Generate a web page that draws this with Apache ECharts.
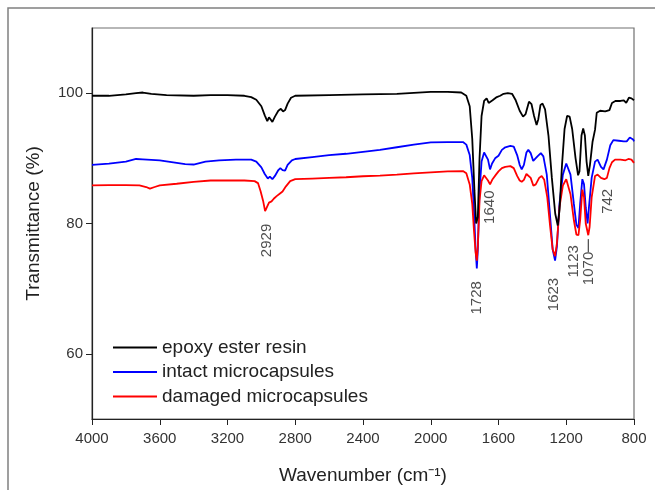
<!DOCTYPE html>
<html>
<head>
<meta charset="utf-8">
<script src="https://cdn.jsdelivr.net/npm/echarts@6/dist/echarts.min.js"></script>
<style>
  html, body { margin: 0; padding: 0; background: #fff; }
  #chart { width: 655px; height: 490px; }
</style>
</head>
<body>
<div id="chart"></div>
<script>
// FTIR spectra: [wavenumber (cm-1), transmittance (%)]
const epoxyResin = [
  [4000, 99.6], [3900, 99.6], [3800, 99.8], [3740, 100.0], [3700, 100.1], [3650, 99.9],
  [3560, 99.7], [3400, 99.6], [3300, 99.7], [3200, 99.7], [3100, 99.6], [3060, 99.4],
  [3030, 99.0], [3000, 98.0], [2980, 96.6], [2965, 95.7], [2955, 96.3], [2945, 96.0],
  [2935, 95.6], [2920, 96.4], [2900, 97.3], [2885, 97.6], [2872, 97.2], [2860, 97.4],
  [2845, 98.4], [2825, 99.3], [2800, 99.6], [2600, 99.7], [2400, 99.8], [2200, 99.9],
  [2000, 100.2], [1900, 100.2], [1820, 100.1], [1790, 99.6], [1770, 98.0], [1755, 93.0],
  [1742, 85.0], [1732, 80.0], [1728, 79.7], [1722, 81.0], [1712, 90.0], [1700, 96.5],
  [1685, 98.8], [1670, 99.2], [1658, 98.5], [1648, 98.2], [1635, 98.9], [1610, 99.4],
  [1590, 99.6], [1570, 99.9], [1545, 100.0], [1520, 99.9], [1500, 99.0], [1475, 97.3],
  [1455, 96.4], [1440, 96.8], [1420, 98.7], [1405, 98.3], [1390, 96.5], [1375, 95.1],
  [1365, 96.0], [1352, 98.2], [1340, 98.4], [1325, 97.5], [1305, 93.5], [1285, 87.0],
  [1265, 81.5], [1250, 79.7], [1240, 82.0], [1225, 89.0], [1210, 94.5], [1195, 96.5],
  [1180, 96.4], [1165, 94.5], [1145, 90.0], [1130, 87.4], [1122, 88.0], [1110, 93.5],
  [1100, 94.6], [1090, 93.5], [1080, 89.5], [1070, 87.3], [1060, 89.0], [1045, 92.5],
  [1030, 94.4], [1020, 97.0], [1000, 97.3], [970, 97.2], [945, 97.4], [930, 98.5],
  [910, 98.8], [880, 98.8], [860, 98.9], [846, 98.5], [830, 99.3], [815, 99.2], [800, 98.9]
];

const intactCaps = [
  [4000, 89.0], [3900, 89.2], [3800, 89.5], [3740, 89.9], [3700, 89.85], [3600, 89.7],
  [3550, 89.5], [3450, 89.1], [3400, 89.05], [3330, 89.5], [3250, 89.7], [3150, 89.8],
  [3060, 89.8], [3030, 89.5], [3000, 88.6], [2980, 87.6], [2962, 86.9], [2950, 87.2],
  [2935, 86.8], [2920, 87.3], [2900, 88.2], [2888, 88.5], [2875, 88.2], [2860, 88.1],
  [2845, 89.0], [2820, 89.7], [2800, 89.9], [2700, 90.2], [2600, 90.5], [2500, 90.7],
  [2400, 91.0], [2300, 91.3], [2200, 91.7], [2100, 92.1], [2000, 92.45], [1900, 92.5],
  [1810, 92.5], [1790, 92.1], [1770, 90.5], [1755, 87.0], [1745, 82.0], [1735, 76.0],
  [1728, 73.1], [1722, 76.0], [1712, 85.0], [1700, 89.5], [1685, 90.9], [1675, 91.1],
  [1662, 89.8], [1650, 88.3], [1638, 89.2], [1620, 90.0], [1600, 90.4], [1580, 91.3],
  [1560, 91.7], [1530, 91.9], [1510, 91.8], [1490, 90.5], [1475, 89.0], [1463, 88.3],
  [1450, 89.0], [1435, 90.9], [1424, 91.3], [1410, 90.8], [1395, 89.6], [1384, 89.5],
  [1370, 90.3], [1350, 90.8], [1335, 90.3], [1315, 87.5], [1295, 81.0], [1280, 76.0],
  [1266, 74.3], [1255, 76.5], [1240, 83.0], [1220, 87.5], [1200, 89.2], [1190, 89.3],
  [1175, 87.5], [1155, 83.0], [1140, 79.8], [1128, 79.3], [1118, 83.0], [1105, 86.8],
  [1095, 86.0], [1085, 82.5], [1074, 80.0], [1066, 82.5], [1050, 87.0], [1030, 89.5],
  [1015, 89.8], [995, 88.7], [980, 88.3], [960, 89.8], [940, 92.0], [922, 92.8],
  [890, 92.7], [860, 92.6], [843, 92.6], [825, 93.2], [814, 93.35], [805, 92.9], [800, 92.6]
];

const damagedCaps = [
  [4000, 85.85], [3900, 85.9], [3800, 85.9], [3720, 85.85], [3680, 85.6], [3658, 85.35],
  [3630, 85.6], [3600, 85.85], [3500, 86.1], [3400, 86.4], [3300, 86.6], [3200, 86.6],
  [3100, 86.6], [3040, 86.5], [3020, 86.2], [3005, 85.0], [2990, 83.5], [2978, 81.9],
  [2970, 82.2], [2955, 83.2], [2940, 83.4], [2927, 83.8], [2910, 84.2], [2890, 84.6],
  [2875, 84.9], [2855, 85.7], [2830, 86.5], [2800, 86.8], [2700, 86.9], [2600, 87.0],
  [2500, 87.1], [2400, 87.25], [2300, 87.35], [2200, 87.5], [2100, 87.7], [2000, 87.85],
  [1900, 88.0], [1810, 88.05], [1790, 87.7], [1770, 86.0], [1755, 83.0], [1745, 79.0],
  [1735, 75.5], [1728, 74.3], [1722, 76.5], [1712, 83.5], [1700, 86.5], [1685, 87.4],
  [1675, 87.5], [1662, 86.6], [1650, 86.0], [1635, 86.8], [1615, 87.5], [1600, 88.0],
  [1580, 88.5], [1560, 88.7], [1530, 88.8], [1510, 88.5], [1490, 87.3], [1475, 86.6],
  [1463, 86.4], [1450, 86.7], [1435, 87.6], [1424, 87.8], [1410, 87.0], [1394, 85.8],
  [1380, 86.0], [1360, 87.0], [1345, 87.3], [1330, 86.7], [1312, 84.0], [1295, 79.5],
  [1280, 76.0], [1266, 75.0], [1255, 77.0], [1240, 82.5], [1220, 85.8], [1200, 86.8],
  [1190, 86.6], [1175, 84.5], [1155, 80.5], [1140, 78.3], [1128, 78.2], [1118, 80.5],
  [1105, 85.2], [1095, 84.0], [1085, 80.0], [1070, 78.2], [1062, 79.5], [1050, 84.0],
  [1030, 87.3], [1015, 87.5], [995, 87.0], [975, 86.8], [960, 87.0], [945, 88.5],
  [930, 89.4], [912, 89.8], [880, 89.8], [850, 89.7], [833, 89.9], [815, 89.8], [800, 89.3]
];

const seriesNames = ["epoxy ester resin", "intact microcapsules", "damaged microcapsules"];
const seriesColors = ["#000000", "#0000ff", "#ff0000"];

// peak labels: [wavenumber position, transmittance position, text]
const peakLabels = [
  [2968, 77.4, "2929"], [1730, 68.6, "1728"], [1650, 82.5, "1640"], [1276, 69.1, "1623"],
  [1154, 74.2, "1123"], [1064, 73.1, "1070"], [957, 83.4, "742"]
];
const leader1070 = [[1070, 77.6], [1070, 75.6]];

const yTicks = [60, 80, 100];

const chart = echarts.init(document.getElementById("chart"));
const font = "'Liberation Sans', Arial, sans-serif";

const lineSeries = [epoxyResin, intactCaps, damagedCaps].map((d, i) => ({
  name: seriesNames[i],
  type: "line",
  data: d,
  showSymbol: false,
  symbol: "none",
  z: i === 0 ? 4 : 2 + i * 0.1,
  lineStyle: { color: seriesColors[i], width: 1.8 },
  itemStyle: { color: seriesColors[i] },
  animation: false
}));

chart.setOption({
  backgroundColor: "#fff",
  animation: false,
  graphic: [{
    type: "rect",
    shape: { x: 8, y: 8, width: 700, height: 600 },
    style: { fill: "none", stroke: "#808080", lineWidth: 1.5 },
    silent: true
  }],
  grid: {
    left: 92, right: 21, top: 28, bottom: 67,
    show: true, borderColor: "#707070", borderWidth: 1.2
  },
  legend: {
    data: seriesNames,
    orient: "vertical",
    left: 108, top: 333,
    icon: "rect",
    itemWidth: 44, itemHeight: 2,
    itemGap: 5.5,
    textStyle: { fontFamily: font, fontSize: 19, color: "#222" }
  },
  xAxis: {
    type: "value",
    min: 800, max: 4000, interval: 400,
    inverse: true,
    name: "Wavenumber (cm⁻¹)",
    nameLocation: "middle",
    nameGap: 47,
    nameTextStyle: { fontFamily: font, fontSize: 19, color: "#222" },
    axisLine: { lineStyle: { color: "#222", width: 1.2 } },
    axisTick: { length: 6, lineStyle: { color: "#222" } },
    axisLabel: {
      fontFamily: font, fontSize: 15, color: "#333", margin: 12,
      formatter: v => String(v)
    },
    splitLine: { show: false }
  },
  yAxis: {
    type: "value",
    min: 50, max: 110,
    name: "Transmittance (%)",
    nameLocation: "middle",
    nameGap: 49,
    nameTextStyle: { fontFamily: font, fontSize: 19, color: "#222" },
    axisLine: { show: true, lineStyle: { color: "#222", width: 1.2 } },
    axisTick: { show: true, length: 6, customValues: yTicks, lineStyle: { color: "#222" } },
    axisLabel: { fontFamily: font, fontSize: 15, color: "#333", margin: 9, customValues: yTicks },
    splitLine: { show: false }
  },
  series: lineSeries.concat([
    {
      type: "line",
      data: leader1070,
      showSymbol: false,
      symbol: "none",
      lineStyle: { color: "#222", width: 1 },
      z: 5
    },
    {
      type: "scatter",
      data: peakLabels.map(p => ({ value: [p[0], p[1]], name: p[2] })),
      symbolSize: 0,
      z: 6,
      label: {
        show: true,
        position: "inside",
        rotate: 90,
        formatter: p => p.name,
        fontFamily: font,
        fontSize: 15,
        color: "#222"
      }
    }
  ])
});

window.addEventListener("resize", () => chart.resize());
</script>
</body>
</html>
